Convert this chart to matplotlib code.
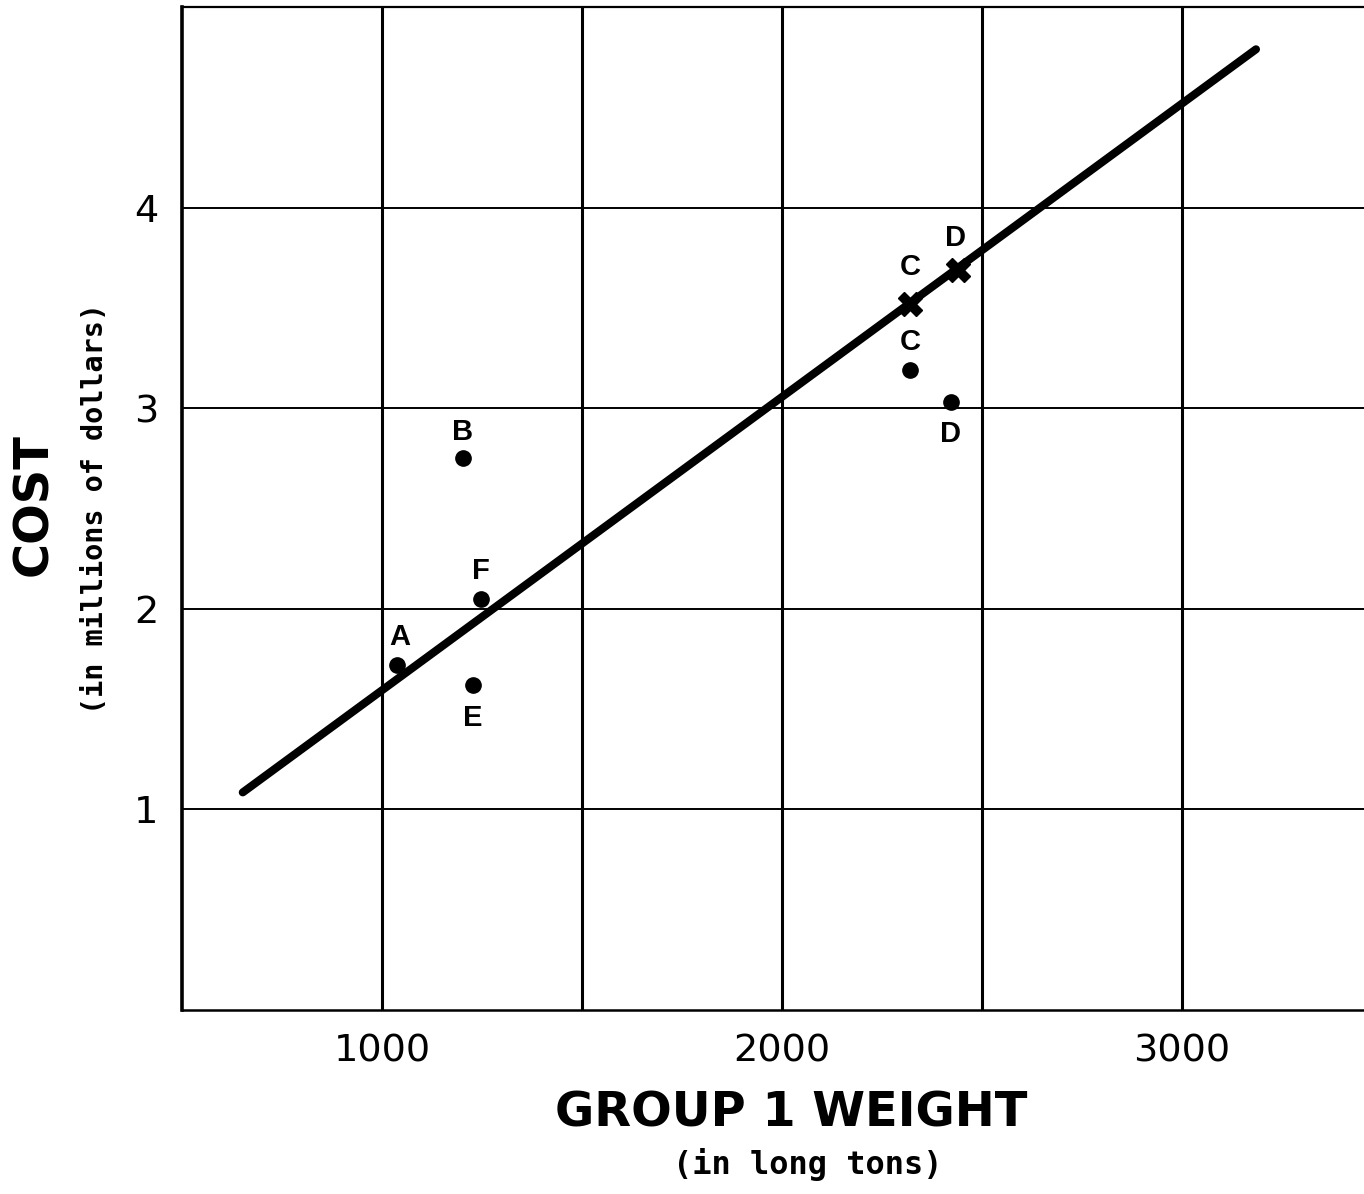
import matplotlib
matplotlib.use("Agg")
import matplotlib.pyplot as plt

# data
names_dot = ["A", "B", "F", "E", "C", "D"]
weight_dot = [1037, 1202, 1247, 1227, 2320, 2422]
cost_dot = [1.72, 2.75, 2.05, 1.62, 3.19, 3.03]

names_x = ["C", "D"]
weight_x = [2320, 2440]
cost_x = [3.52, 3.69]

fit_weight = [652, 3185]
fit_cost = [1.085, 4.79]

xgrid = [1000, 1500, 2000, 2500, 3000]
xlabels = ["1000", "", "2000", "", "3000"]
ygrid = [1, 2, 3, 4]

# label offsets in points (dx, dy) for each point label
dot_offsets = [(2, 20), (0, 19), (0, 20), (0, -24), (0, 20), (0, -23)]
x_offsets = [(0, 27), (-2, 23)]

plt.rcParams['font.family'] = ['DejaVu Sans']

fig = plt.figure(figsize=(13.64, 11.94), dpi=100)
ax = fig.add_axes([0.1334, 0.1541, 0.8666, 0.8399])
ax.set_xlim(500, 3455)
ax.set_ylim(0, 5)

for x in xgrid:
    ax.axvline(x, color='black', lw=2.2, zorder=1)
for y in ygrid:
    ax.axhline(y, color='black', lw=1.4, zorder=1)

ax.spines['right'].set_visible(False)
ax.spines['left'].set_linewidth(2.6)
ax.spines['bottom'].set_linewidth(1.8)
ax.spines['top'].set_linewidth(1.6)

ax.plot(fit_weight, fit_cost, color='black', lw=5.8, solid_capstyle='round', zorder=3)
ax.plot(weight_dot, cost_dot, 'o', color='black', ms=11, zorder=4)
ax.plot(weight_x, cost_x, 'X', color='black', ms=17, zorder=4)

for n, x, y, off in zip(names_dot, weight_dot, cost_dot, dot_offsets):
    ax.annotate(n, (x, y), xytext=off, textcoords='offset points', ha='center',
                va='center', fontsize=21, fontweight='bold', family='Liberation Sans')
for n, x, y, off in zip(names_x, weight_x, cost_x, x_offsets):
    ax.annotate(n, (x, y), xytext=off, textcoords='offset points', ha='center',
                va='center', fontsize=21, fontweight='bold', family='Liberation Sans')

ax.set_xticks(xgrid)
ax.set_xticklabels(xlabels)
ax.set_yticks(ygrid)
ax.tick_params(axis='both', length=0, labelsize=27.5)
ax.tick_params(axis='x', pad=17)
ax.tick_params(axis='y', pad=17)

fig.text(0.580, 0.0675, "GROUP 1 WEIGHT", ha='center', va='center', fontsize=34.5,
         fontweight='bold')
fig.text(0.592, 0.025, "(in long tons)", ha='center', va='center', fontsize=23,
         family='DejaVu Sans Mono', fontweight='bold')
fig.text(0.0245, 0.577, "COST", ha='center', va='center', fontsize=34.5, rotation=90,
         fontweight='bold')
fig.text(0.0695, 0.574, "(in millions of dollars)", ha='center', va='center', fontsize=20.5,
         rotation=90, family='DejaVu Sans Mono', fontweight='bold')

fig.savefig("out.png", dpi=100)
